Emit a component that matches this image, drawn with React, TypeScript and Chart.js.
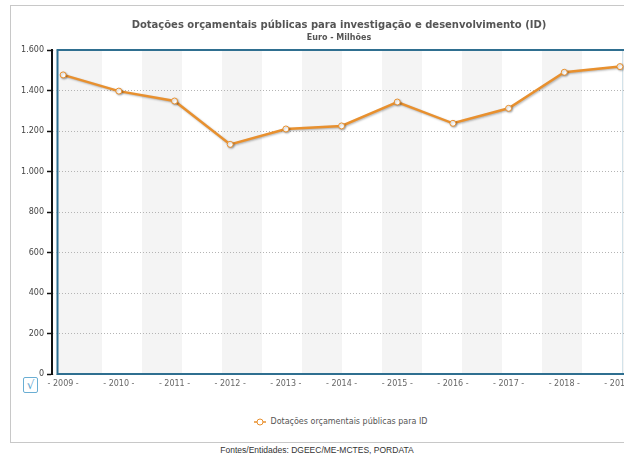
import React, { useEffect, useRef } from "react";
import { Chart, registerables } from "chart.js";

Chart.register(...registerables);

// ---- data ----
const years: number[] = [2009, 2010, 2011, 2012, 2013, 2014, 2015, 2016, 2017, 2018, 2019];
const values: number[] = [1477, 1397, 1348, 1134, 1210, 1225, 1343, 1238, 1312, 1490, 1518];
const yMin = 0;
const yMax = 1600;
const yStep = 200;
const xMin = 2008.8;
const xMax = 2019.18;

const TITLE = "Dotações orçamentais públicas para investigação e desenvolvimento (ID)";
const SUBTITLE = "Euro - Milhões";
const SERIES_NAME = "Dotações orçamentais públicas para ID";
const SOURCE = "Fontes/Entidades: DGEEC/ME-MCTES, PORDATA";

const ORANGE = "#e8902e";
const FRAME = "#2f6f90";
const BAND = "#f4f4f4";

function fmtThousands(v: number): string {
  return String(v).replace(/\B(?=(\d{3})+(?!\d))/g, ".");
}

const decoPlugin = {
  id: "deco",
  beforeDraw(chart: any) {
    const { ctx, chartArea: a } = chart;
    const frameLeft = a.left + 5.5;
    ctx.save();
    ctx.fillStyle = BAND;
    // alternating vertical bands
    ctx.fillRect(frameLeft, a.top, a.left + 50 - frameLeft, a.bottom - a.top);
    for (let x = a.left + 90; x < a.right; x += 80) {
      const w = Math.min(40, a.right - x);
      ctx.fillRect(x, a.top, w, a.bottom - a.top);
    }
    ctx.restore();
  },
  beforeDatasetsDraw(chart: any) {
    const { ctx, chartArea: a } = chart;
    const frameLeft = a.left + 5.5;
    ctx.save();
    ctx.fillStyle = "#ffffff";
    ctx.fillRect(a.left + 1.5, a.top - 2, frameLeft - a.left - 2.5, a.bottom - a.top + 4);
    // faint inner line near the right edge of the visible area
    ctx.strokeStyle = "#d3e3ea";
    ctx.lineWidth = 1;
    ctx.beginPath();
    ctx.moveTo(a.right - 7.5, a.top);
    ctx.lineTo(a.right - 7.5, a.bottom);
    ctx.stroke();
    ctx.strokeStyle = FRAME;
    ctx.lineWidth = 2;
    ctx.strokeRect(frameLeft, a.top, a.right - frameLeft, a.bottom - a.top);
    ctx.restore();
  },
  beforeDatasetDraw(chart: any) {
    const ctx = chart.ctx;
    ctx.save();
    ctx.shadowColor = "rgba(0,0,0,0.28)";
    ctx.shadowOffsetX = 1;
    ctx.shadowOffsetY = 1;
    ctx.shadowBlur = 2;
  },
  afterDatasetDraw(chart: any) {
    chart.ctx.restore();
  },
};

function LineChart() {
  const ref = useRef<HTMLCanvasElement | null>(null);
  useEffect(() => {
    if (!ref.current) return;
    const chart = new Chart(ref.current, {
      type: "line",
      data: {
        datasets: [
          {
            label: SERIES_NAME,
            data: years.map((y, i) => ({ x: y, y: values[i] })),
            borderColor: ORANGE,
            borderWidth: 2.5,
            pointRadius: 3,
            pointBorderWidth: 1,
            pointBackgroundColor: "#ffffff",
            pointBorderColor: ORANGE,
            tension: 0,
            fill: false,
          },
        ],
      },
      options: {
        responsive: false,
        animation: false,
        layout: { padding: { left: 0, right: 61, top: 44, bottom: 12 } },
        plugins: {
          legend: { display: false },
          title: { display: false },
          tooltip: { enabled: false },
        },
        scales: {
          x: {
            type: "linear",
            min: xMin,
            max: xMax,
            ticks: {
              stepSize: 1,
              includeBounds: false,
              autoSkip: false,
              maxRotation: 0,
              padding: 5,
              color: "#666666",
              font: { family: "DejaVu Sans", size: 8 },
              callback: (v: any) => `- ${v} -`,
            },
            grid: { display: false, drawTicks: false },
            border: { display: false },
            afterFit: (s: any) => {
              s.paddingLeft = 0;
              s.paddingRight = 0;
              s.height = 20;
            },
          },
          y: {
            min: yMin,
            max: yMax,
            ticks: {
              stepSize: yStep,
              padding: 3,
              color: "#444444",
              font: { family: "DejaVu Sans", size: 8 },
              callback: (v: any) => fmtThousands(Number(v)),
            },
            grid: {
              color: "#b4b4b4",
              lineWidth: 1,
              tickLength: 5,
              tickColor: "#111111",
              tickWidth: 1.5,
            },
            border: { display: true, color: "#111111", width: 2, dash: [1, 2] },
            afterFit: (s: any) => {
              s.width = 41;
              s.paddingTop = 0;
              s.paddingBottom = 0;
            },
          },
        },
      },
      plugins: [decoPlugin],
    } as any);
    return () => chart.destroy();
  }, []);
  return (
    <canvas
      ref={ref}
      width={680}
      height={400}
      style={{ position: "absolute", left: 0, top: 0, width: 680, height: 400, display: "block" }}
    />
  );
}

export default function App() {
  return (
    <div>
      <div
        style={{
          position: "absolute",
          left: 10,
          top: 5,
          width: 614,
          height: 438,
          boxSizing: "border-box",
          border: "1px solid #c8c8c8",
          borderRight: "none",
          overflow: "hidden",
          background: "#ffffff",
        }}
      >
        <LineChart />
        <div
          style={{
            position: "absolute",
            left: 0,
            top: 12,
            width: 656,
            textAlign: "center",
            fontFamily: "DejaVu Sans, Verdana, sans-serif",
            fontWeight: "bold",
            fontSize: 10,
            color: "#555555",
            lineHeight: "14px",
            whiteSpace: "nowrap",
          }}
        >
          {TITLE}
        </div>
        <div
          style={{
            position: "absolute",
            left: 0,
            top: 26,
            width: 656,
            textAlign: "center",
            fontFamily: "DejaVu Sans, Verdana, sans-serif",
            fontWeight: "bold",
            fontSize: 8,
            color: "#555555",
            lineHeight: "12px",
            whiteSpace: "nowrap",
          }}
        >
          {SUBTITLE}
        </div>
        <div
          style={{
            position: "absolute",
            left: 12,
            top: 371,
            width: 13,
            height: 14,
            border: "1px solid #6aaed3",
            borderRadius: 2,
            boxSizing: "content-box",
            color: "#5aa2cc",
            fontFamily: "DejaVu Sans, sans-serif",
            fontSize: 12,
            lineHeight: "14px",
            textAlign: "center",
            background: "#ffffff",
          }}
        >
          √
        </div>
        <div
          style={{
            position: "absolute",
            left: 0,
            top: 410,
            width: 660,
            textAlign: "center",
            fontFamily: "DejaVu Sans, Verdana, sans-serif",
            fontSize: 8,
            color: "#555555",
            lineHeight: "12px",
            whiteSpace: "nowrap",
          }}
        >
          <svg width="12" height="8" style={{ verticalAlign: "middle", marginRight: 4 }}>
            <line x1="0" y1="4" x2="12" y2="4" stroke={ORANGE} strokeWidth="1.5" />
            <circle cx="6" cy="4" r="3" fill="#ffffff" stroke={ORANGE} strokeWidth="1" />
          </svg>
          <span style={{ verticalAlign: "middle" }}>{SERIES_NAME}</span>
        </div>
      </div>
      <div
        style={{
          position: "absolute",
          left: 0,
          top: 444,
          width: 624,
          paddingLeft: 10,
          boxSizing: "border-box",
          textAlign: "center",
          fontFamily: "Liberation Sans, Arial, sans-serif",
          fontSize: 8.5,
          color: "#333333",
          lineHeight: "12px",
          whiteSpace: "nowrap",
        }}
      >
        {SOURCE}
      </div>
    </div>
  );
}
